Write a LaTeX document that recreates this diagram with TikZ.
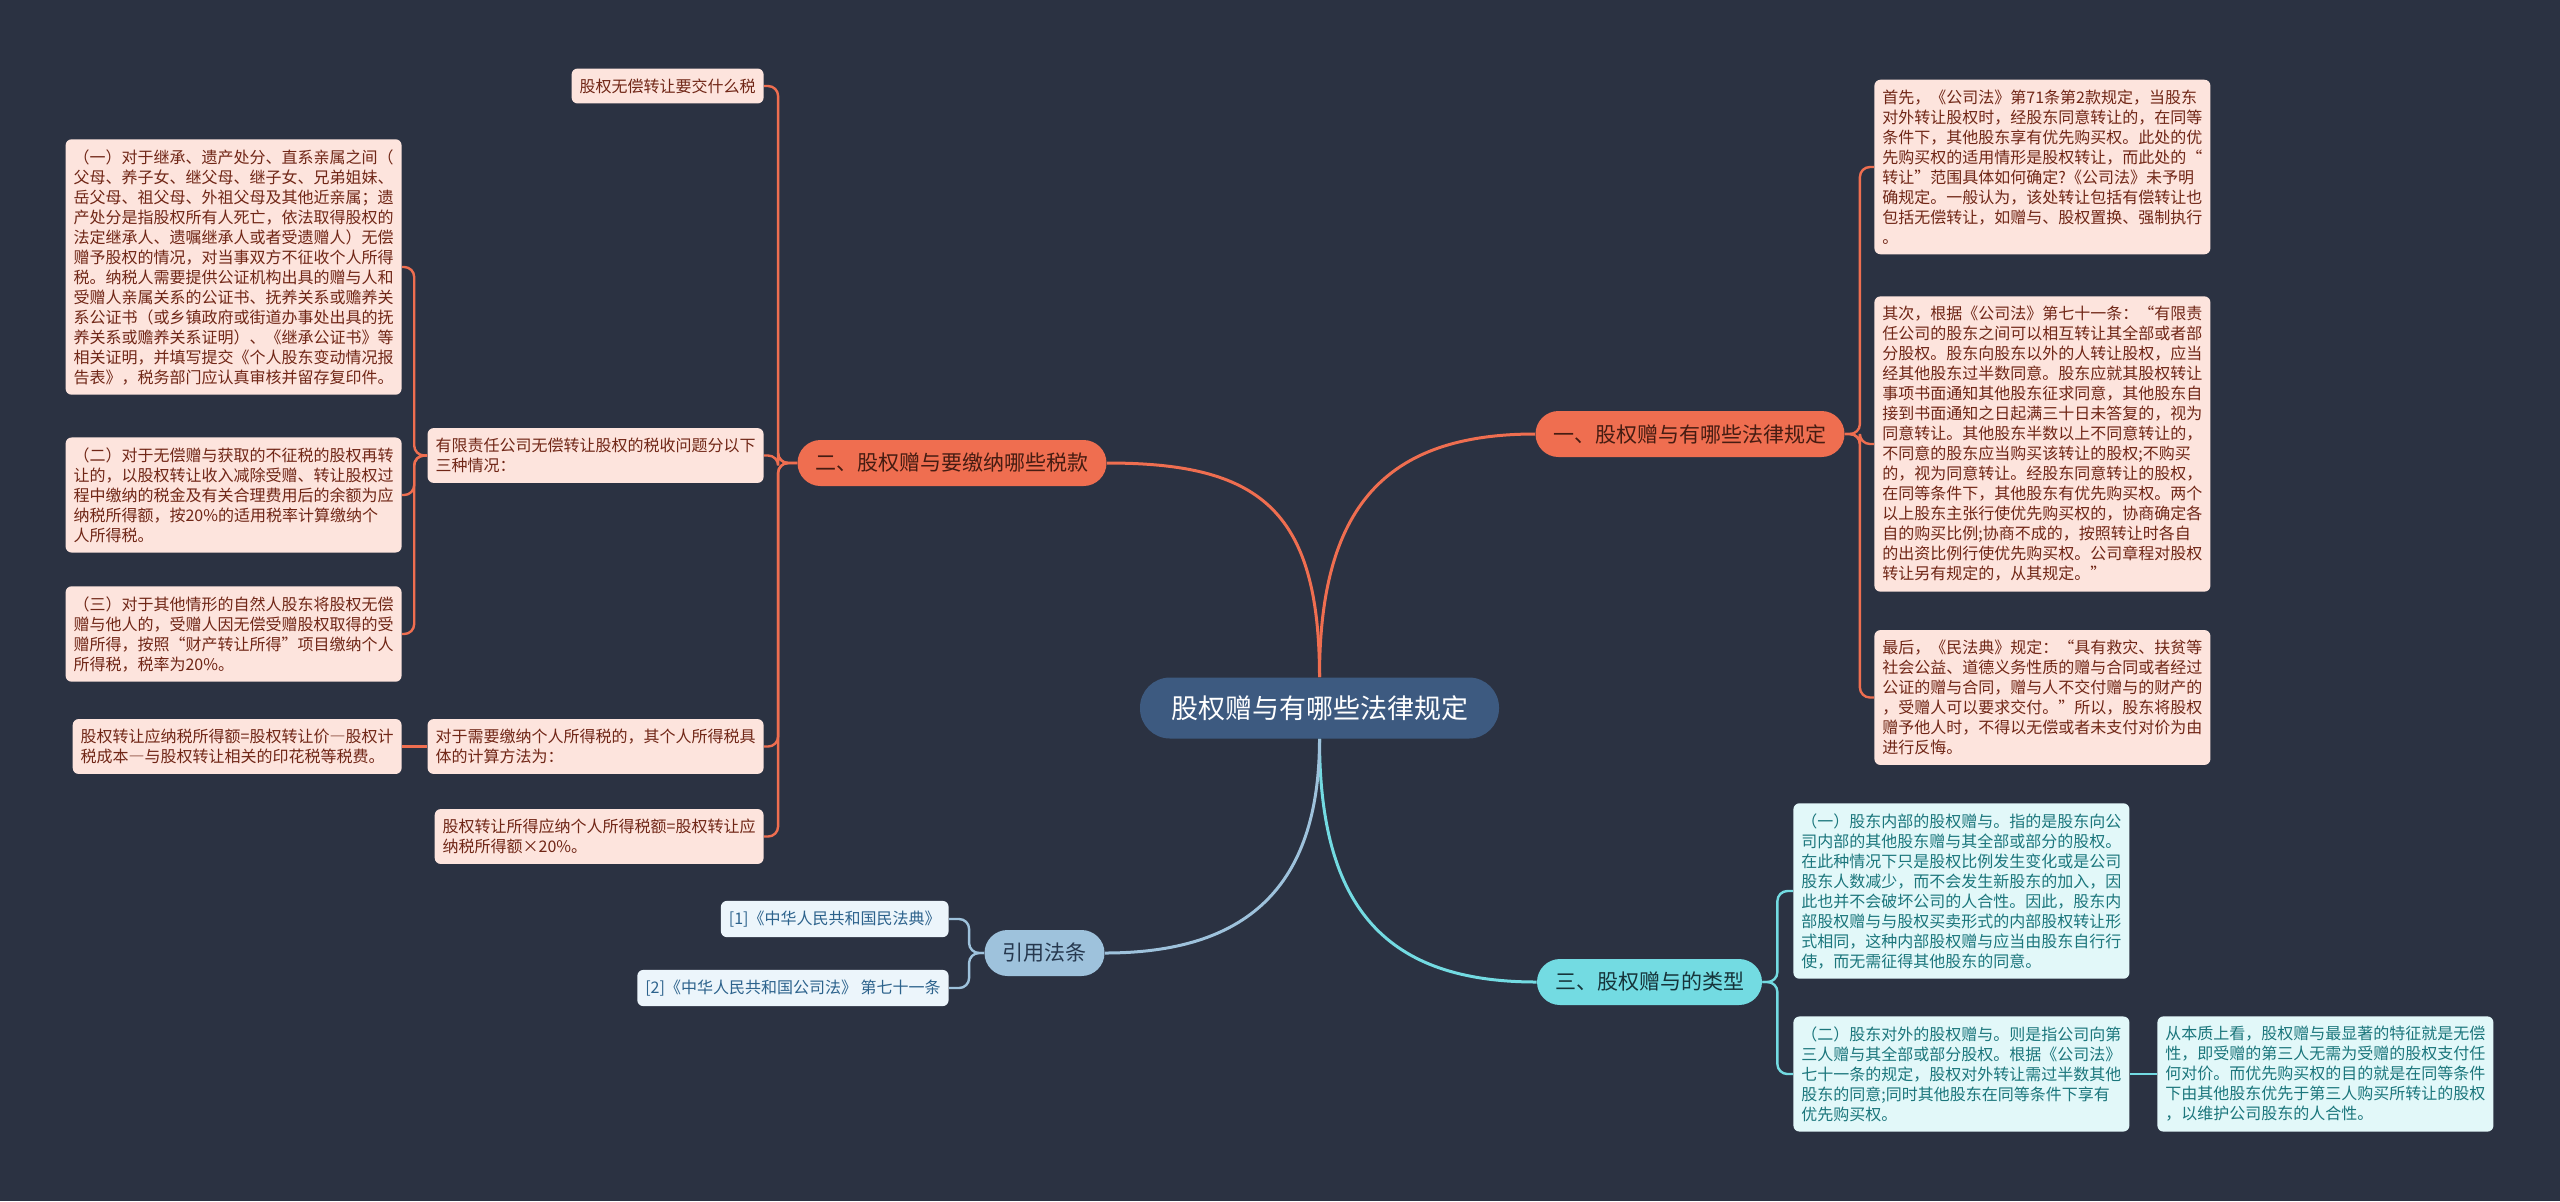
\documentclass[tikz,border=0pt]{standalone}
\usepackage{fontspec}
\setmainfont{Noto Sans CJK SC}
\newcommand{\longdash}{{\addfontfeature{RawFeature=+fwid}—}}
\definecolor{bgdark}{RGB}{43,50,66}
\definecolor{rootblue}{RGB}{61,90,128}
\definecolor{orangemain}{RGB}{239,110,80}
\definecolor{orangeleaf}{RGB}{253,228,221}
\definecolor{orangetext}{RGB}{112,38,22}
\definecolor{orangedark}{RGB}{70,28,18}
\definecolor{cyanmain}{RGB}{115,219,226}
\definecolor{cyanleaf}{RGB}{226,248,249}
\definecolor{cyantext}{RGB}{27,118,124}
\definecolor{cyandark}{RGB}{22,52,58}
\definecolor{bluemain}{RGB}{158,194,220}
\definecolor{blueleaf}{RGB}{236,245,251}
\definecolor{bluetext}{RGB}{44,98,140}
\definecolor{bluedark}{RGB}{38,56,78}

\begin{document}
\begin{tikzpicture}[x=0.5pt,y=-0.5pt,
  root/.style={fill=rootblue,text=white,rounded corners=15pt,minimum height=30.5pt,
    inner xsep=15.5pt,font=\fontsize{13.5pt}{16pt}\selectfont},
  topic/.style={rounded corners=11.5pt,minimum height=23pt,inner xsep=9pt,
    font=\fontsize{10.5pt}{13pt}\selectfont},
  otopic/.style={topic,fill=orangemain,text=orangedark},
  ctopic/.style={topic,fill=cyanmain,text=cyandark},
  btopic/.style={topic,fill=bluemain,text=bluedark},
  leaf/.style={rounded corners=3pt,align=left,inner xsep=4pt,inner ysep=5pt,
    font=\fontsize{8pt}{10pt}\selectfont},
  oleaf/.style={leaf,fill=orangeleaf,text=orangetext},
  cleaf/.style={leaf,fill=cyanleaf,text=cyantext},
  bleaf/.style={leaf,fill=blueleaf,text=bluetext},
  mainlink/.style={line width=1.5pt},
  olink/.style={draw=orangemain,line width=1.2pt,rounded corners=5pt},
  clink/.style={draw=cyanmain,line width=1.2pt,rounded corners=5pt},
  blink/.style={draw=bluemain,line width=1.2pt,rounded corners=5pt}]
\fill[bgdark] (0,0) rectangle (2560,1201);
\useasboundingbox (0,0) rectangle (2560,1201);

% centre and the four topics
\node[root] (root) at (1319.5,708) {股权赠与有哪些法律规定};
\node[otopic] (lawrules) at (1690,434) {一、股权赠与有哪些法律规定};
\node[otopic] (taxes) at (952,463) {二、股权赠与要缴纳哪些税款};
\node[ctopic] (kinds) at (1649.5,982) {三、股权赠与的类型};
\node[btopic] (cites) at (1044.5,953) {引用法条};

\draw[mainlink,orangemain] (root.north) .. controls +(0,-170) and +(-150,0) .. (lawrules.west);
\draw[mainlink,orangemain] (root.north) .. controls +(0,-170) and +(150,0) .. (taxes.east);
\draw[mainlink,cyanmain] (root.south) .. controls +(0,170) and +(-150,0) .. (kinds.west);
\draw[mainlink,bluemain] (root.south) .. controls +(0,150) and +(140,0) .. (cites.east);

% one: legal rules
\node[oleaf,anchor=west] (first) at (1874,167) {首先，《公司法》第71条第2款规定，当股东\\
对外转让股权时，经股东同意转让的，在同等\\
条件下，其他股东享有优先购买权。此处的优\\
先购买权的适用情形是股权转让，而此处的“\\
转让”范围具体如何确定?《公司法》未予明\\
确规定。一般认为，该处转让包括有偿转让也\\
包括无偿转让，如赠与、股权置换、强制执行\\
。};
\node[oleaf,anchor=west] (second) at (1874,444) {其次，根据《公司法》第七十一条：“有限责\\
任公司的股东之间可以相互转让其全部或者部\\
分股权。股东向股东以外的人转让股权，应当\\
经其他股东过半数同意。股东应就其股权转让\\
事项书面通知其他股东征求同意，其他股东自\\
接到书面通知之日起满三十日未答复的，视为\\
同意转让。其他股东半数以上不同意转让的，\\
不同意的股东应当购买该转让的股权;不购买\\
的，视为同意转让。经股东同意转让的股权，\\
在同等条件下，其他股东有优先购买权。两个\\
以上股东主张行使优先购买权的，协商确定各\\
自的购买比例;协商不成的，按照转让时各自\\
的出资比例行使优先购买权。公司章程对股权\\
转让另有规定的，从其规定。”};
\node[oleaf,anchor=west] (last) at (1874,697.5) {最后，《民法典》规定：“具有救灾、扶贫等\\
社会公益、道德义务性质的赠与合同或者经过\\
公证的赠与合同，赠与人不交付赠与的财产的\\
，受赠人可以要求交付。”所以，股东将股权\\
赠予他人时，不得以无偿或者未支付对价为由\\
进行反悔。};
\draw[olink] (lawrules.east) -- ++(15,0) |- (first.west);
\draw[olink] (lawrules.east) -- ++(15,0) |- (second.west);
\draw[olink] (lawrules.east) -- ++(15,0) |- (last.west);

% two: taxes
\node[oleaf,anchor=east] (whattax) at (764,86) {股权无偿转让要交什么税};
\node[oleaf,anchor=east] (threecases) at (764,455.5) {有限责任公司无偿转让股权的税收问题分以下\\
三种情况：};
\node[oleaf,anchor=east] (howcalc) at (764,746.5) {对于需要缴纳个人所得税的，其个人所得税具\\
体的计算方法为：};
\node[oleaf,anchor=east] (taxamount) at (764,836.5) {股权转让所得应纳个人所得税额=股权转让应\\
纳税所得额×20\%。};
\draw[olink] (taxes.west) -- ++(-19,0) |- (whattax.east);
\draw[olink] (taxes.west) -- ++(-19,0) |- (threecases.east);
\draw[olink] (taxes.west) -- ++(-19,0) |- (howcalc.east);
\draw[olink] (taxes.west) -- ++(-19,0) |- (taxamount.east);

\node[oleaf,anchor=east] (caseone) at (402,267) {（一）对于继承、遗产处分、直系亲属之间（\\
父母、养子女、继父母、继子女、兄弟姐妹、\\
岳父母、祖父母、外祖父母及其他近亲属；遗\\
产处分是指股权所有人死亡，依法取得股权的\\
法定继承人、遗嘱继承人或者受遗赠人）无偿\\
赠予股权的情况，对当事双方不征收个人所得\\
税。纳税人需要提供公证机构出具的赠与人和\\
受赠人亲属关系的公证书、抚养关系或赡养关\\
系公证书（或乡镇政府或街道办事处出具的抚\\
养关系或赡养关系证明）、《继承公证书》等\\
相关证明，并填写提交《个人股东变动情况报\\
告表》，税务部门应认真审核并留存复印件。};
\node[oleaf,anchor=east] (casetwo) at (402,495) {（二）对于无偿赠与获取的不征税的股权再转\\
让的，以股权转让收入减除受赠、转让股权过\\
程中缴纳的税金及有关合理费用后的余额为应\\
纳税所得额，按20\%的适用税率计算缴纳个\\
人所得税。};
\node[oleaf,anchor=east] (casethree) at (402,634) {（三）对于其他情形的自然人股东将股权无偿\\
赠与他人的，受赠人因无偿受赠股权取得的受\\
赠所得，按照“财产转让所得”项目缴纳个人\\
所得税，税率为20\%。};
\draw[olink] (threecases.west) -- ++(-13,0) |- (caseone.east);
\draw[olink] (threecases.west) -- ++(-13,0) |- (casetwo.east);
\draw[olink] (threecases.west) -- ++(-13,0) |- (casethree.east);

\node[oleaf,anchor=east] (formula) at (402,746.5) {股权转让应纳税所得额=股权转让价\longdash 股权计\\
税成本\longdash 与股权转让相关的印花税等税费。};
\draw[olink] (howcalc.west) -- (formula.east);

% three: kinds of gifts
\node[cleaf,anchor=west] (inner) at (1793,891) {（一）股东内部的股权赠与。指的是股东向公\\
司内部的其他股东赠与其全部或部分的股权。\\
在此种情况下只是股权比例发生变化或是公司\\
股东人数减少，而不会发生新股东的加入，因\\
此也并不会破坏公司的人合性。因此，股东内\\
部股权赠与与股权买卖形式的内部股权转让形\\
式相同，这种内部股权赠与应当由股东自行行\\
使，而无需征得其他股东的同意。};
\node[cleaf,anchor=west] (outer) at (1793,1074) {（二）股东对外的股权赠与。则是指公司向第\\
三人赠与其全部或部分股权。根据《公司法》\\
七十一条的规定，股权对外转让需过半数其他\\
股东的同意;同时其他股东在同等条件下享有\\
优先购买权。};
\node[cleaf,anchor=west] (essence) at (2157,1074) {从本质上看，股权赠与最显著的特征就是无偿\\
性，即受赠的第三人无需为受赠的股权支付任\\
何对价。而优先购买权的目的就是在同等条件\\
下由其他股东优先于第三人购买所转让的股权\\
，以维护公司股东的人合性。};
\draw[clink] (kinds.east) -- ++(15,0) |- (inner.west);
\draw[clink] (kinds.east) -- ++(15,0) |- (outer.west);
\draw[clink] (outer.east) -- (essence.west);

% four: cited articles
\node[bleaf,anchor=east] (civilcode) at (949,919) {[1]《中华人民共和国民法典》};
\node[bleaf,anchor=east] (companylaw) at (949,988) {[2]《中华人民共和国公司法》 第七十一条};
\draw[blink] (cites.west) -- ++(-15,0) |- (civilcode.east);
\draw[blink] (cites.west) -- ++(-15,0) |- (companylaw.east);
\end{tikzpicture}
\end{document}
